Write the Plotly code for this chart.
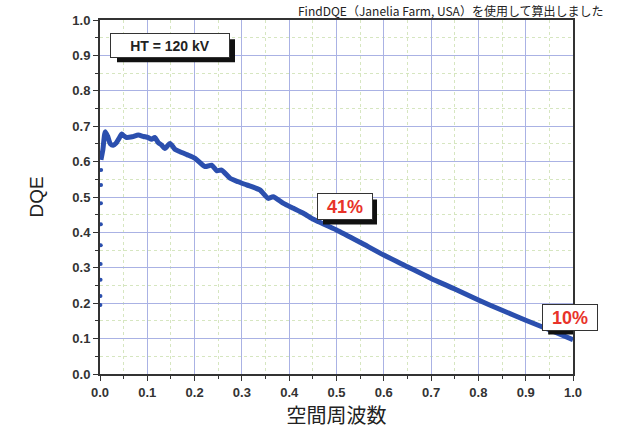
import plotly.graph_objects as go

# Low-frequency sample points (drawn as separate dots)
freq_low = [0.0008, 0.0010, 0.0012, 0.0014, 0.0016, 0.0018, 0.0020, 0.0022, 0.0024]
dqe_low = [0.195, 0.220, 0.266, 0.311, 0.364, 0.423, 0.482, 0.534, 0.576]

# Main DQE curve
freq = [0.002, 0.006, 0.011, 0.016, 0.022, 0.028, 0.034, 0.040, 0.046, 0.051, 0.056,
        0.068, 0.081, 0.092, 0.102, 0.109, 0.116, 0.123, 0.130, 0.137, 0.148, 0.159,
        0.169, 0.185, 0.201, 0.222, 0.236, 0.247, 0.257, 0.275, 0.292, 0.310, 0.338,
        0.356, 0.366, 0.388, 0.409, 0.430, 0.451, 0.462, 0.500, 0.550, 0.600, 0.650,
        0.700, 0.750, 0.800, 0.850, 0.900, 0.950, 1.000]
dqe = [0.605, 0.633, 0.684, 0.672, 0.650, 0.646, 0.652, 0.665, 0.678, 0.672, 0.668,
       0.670, 0.675, 0.671, 0.668, 0.663, 0.668, 0.654, 0.647, 0.637, 0.651, 0.634,
       0.628, 0.619, 0.609, 0.586, 0.590, 0.574, 0.576, 0.553, 0.543, 0.534, 0.520,
       0.496, 0.501, 0.482, 0.468, 0.454, 0.437, 0.430, 0.407, 0.372, 0.336, 0.303,
       0.270, 0.240, 0.209, 0.180, 0.152, 0.125, 0.097]

tick_vals = [i / 10 for i in range(11)]
tick_text = [f"{v:.1f}" for v in tick_vals]

# Callout labels
callout_val = [41, 10]
callout_pos = [(0.518, 0.472), (0.994, 0.161)]

line_color = "#2b4fae"

fig = go.Figure()
fig.add_trace(go.Scatter(x=freq_low, y=dqe_low, mode="markers",
                         marker=dict(color=line_color, size=4), showlegend=False))
fig.add_trace(go.Scatter(x=freq, y=dqe, mode="lines",
                         line=dict(color=line_color, width=5, shape="spline", smoothing=0.6),
                         showlegend=False))

axis_common = dict(
    range=[0, 1.0], tickvals=tick_vals, ticktext=tick_text,
    showgrid=True, gridcolor="#aab2e4", gridwidth=1,
    minor=dict(dtick=0.05, showgrid=True, gridcolor="#d6e6c0", griddash="dot",
               ticks="outside", ticklen=3, tickcolor="#333"),
    ticks="outside", ticklen=5, tickcolor="#333", tickwidth=1,
    showline=True, linecolor="#333", linewidth=2, mirror=True,
    tickfont=dict(family="Liberation Sans", size=13, color="#333", weight="bold"),
    zeroline=False, fixedrange=True,
)

fig.update_layout(
    width=620, height=443,
    margin=dict(l=100, r=47, t=20, b=69),
    paper_bgcolor="white", plot_bgcolor="white",
    xaxis=dict(axis_common,
               title=dict(text="空間周波数", standoff=10,
                          font=dict(family="Noto Sans CJK JP", size=20, color="#222"))),
    yaxis=dict(axis_common,
               title=dict(text="DQE", standoff=24,
                          font=dict(family="Liberation Sans", size=19, color="#222"))),
)


def boxed_label(x, y, text, color, size, w, h, sx=4, sy=4):
    # drop shadow as a pixel-sized rectangle, white box annotation on top
    fig.add_shape(type="rect", xref="x", yref="y", layer="above",
                  xsizemode="pixel", ysizemode="pixel", xanchor=x, yanchor=y,
                  x0=-w / 2 + sx, x1=w / 2 + sx + 2, y0=-h / 2 - sy - 2, y1=h / 2 - sy,
                  fillcolor="#111", line=dict(width=0))
    fig.add_annotation(x=x, y=y, xref="x", yref="y", text=text, showarrow=False,
                       width=w, height=h,
                       bgcolor="white", bordercolor="#333", borderwidth=1,
                       font=dict(family="Liberation Sans", size=size, color=color,
                                 weight="bold"))


boxed_label(0.148, 0.927, "HT = 120 kV", "#222", 14, 116, 21, sx=5, sy=4)
for (px, py), v in zip(callout_pos, callout_val):
    boxed_label(px, py, f"{v}%", "#e8332a", 18, 52 if v > 9 else 40, 23)

fig.add_annotation(x=1.07, y=1.0, xref="paper", yref="paper", yshift=-1,
                   xanchor="right", yanchor="bottom", showarrow=False,
                   text="FindDQE（Janelia Farm, USA）を使用して算出しました",
                   font=dict(family="Noto Sans CJK JP", size=12, color="#222"))

fig.write_html("out.html")
